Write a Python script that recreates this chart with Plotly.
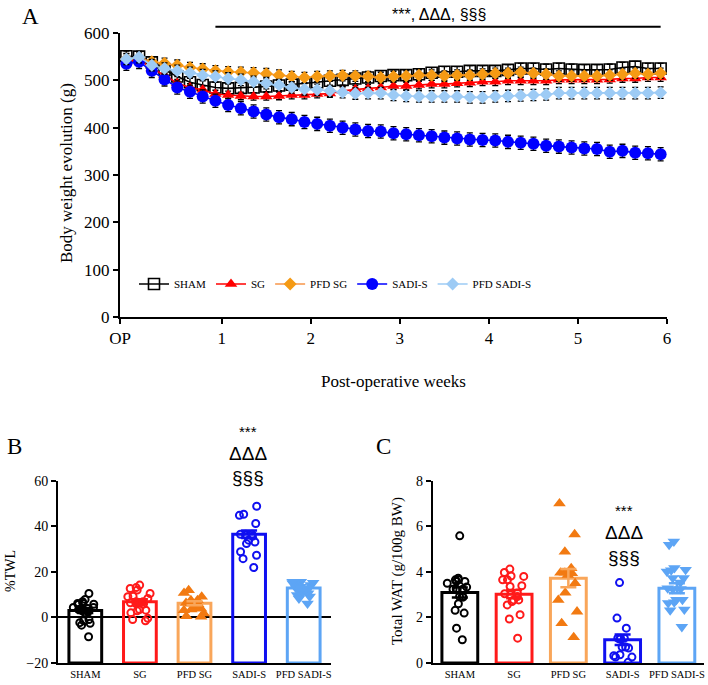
import plotly.graph_objects as go

W, H = 708, 685

# ---------------- Panel A data (daily body weight, g) ----------------
days = list(range(43))
week_tick_days = [-0.5, 7.5, 14.5, 21.5, 28.5, 35.5, 42.5]
week_tick_text = ["OP", "1", "2", "3", "4", "5", "6"]

sham_bw = [551, 550, 538, 522, 508, 496, 490, 485, 483, 484, 485, 487, 489, 491, 493, 496,
           499, 501, 504, 506, 509, 511, 511, 513, 516, 518, 518, 520, 520, 520, 522, 525,
           525, 523, 525, 523, 522, 522, 523, 527, 529, 525, 525]
sg_bw = [539, 544, 525, 511, 494, 485, 480, 471, 469, 467, 466, 466, 467, 469, 469, 471,
         472, 478, 481, 483, 485, 488, 488, 490, 492, 492, 494, 495, 497, 497, 499, 499,
         499, 499, 501, 501, 501, 501, 502, 504, 504, 506, 506]
pfdsg_bw = [545, 547, 539, 536, 532, 527, 524, 520, 518, 517, 516, 514, 511, 508, 506, 508,
            509, 510, 509, 508, 506, 508, 509, 511, 511, 509, 511, 511, 513, 515, 515, 517,
            515, 513, 509, 509, 509, 509, 511, 513, 515, 513, 515]
sadis_bw = [535, 539, 520, 502, 485, 476, 466, 457, 448, 441, 434, 428, 422, 418, 412, 408,
            404, 400, 396, 393, 392, 388, 386, 384, 382, 379, 377, 375, 374, 373, 370, 368,
            366, 362, 360, 358, 356, 355, 349, 351, 347, 346, 344]
pfdsadis_bw = [545, 549, 532, 525, 520, 516, 511, 508, 504, 501, 497, 494, 490, 485, 481, 480,
               478, 475, 472, 473, 473, 469, 467, 466, 466, 466, 466, 464, 464, 466, 467, 468,
               469, 470, 473, 473, 473, 473, 473, 473, 473, 473, 474]
sem_bw = {"SHAM": 11, "SG": 8, "PFD SG": 11, "SADI-S": 14, "PFD SADI-S": 12}

# ---------------- Panel B / C data ----------------
groups = ["SHAM", "SG", "PFD SG", "SADI-S", "PFD SADI-S"]

twl_sham = [7.9, 10.5, 6.1, 5.8, 5.8, 6.1, 6.9, 4.4, 3.9, 3.5, 3.9, 4.4, 2.5, 2.0, 2.9,
            -1.5, -2.6, -3.4, -2.3, -0.9, -8.5]
twl_sg = [14.2, 12.7, 12.0, 13.1, 10.5, 9.1, 8.3, 9.3, 6.1, 6.9, 6.4, 6.9, 5.8, 3.2, 2.9,
          3.5, 2.0, -0.4, -1.5, -0.9]
twl_pfdsg = [12.0, 10.8, 7.6, 9.1, 7.6, 6.1, 5.8, 6.4, 3.5, 3.9, 4.4, 3.2, 1.8, 0.6, 0.3]
twl_sadis = [48.8, 44.8, 45.3, 41.2, 36.5, 36.5, 35.6, 36.1, 36.5, 33.9, 33.1, 32.4, 27.3,
             28.8, 25.8, 21.9]
twl_pfdsadis = [12.7, 11.7, 12.3, 11.2, 12.7, 15.6, 13.4, 10.5, 9.8, 10.5, 15.6, 14.9, 14.2,
                14.9, 15.2, 6.1, 9.1, 8.3]
twl_mean = [3.0, 6.9, 6.2, 36.5, 12.9]
twl_sem = [1.1, 1.1, 0.9, 1.7, 0.6]
twl_base = -20

wat_sham = [5.58, 3.72, 3.65, 3.58, 3.5, 3.58, 3.65, 3.33, 3.21, 3.24, 3.24, 3.24, 2.92,
            2.89, 2.92, 2.6, 2.31, 2.19, 1.53, 1.02]
wat_sg = [4.12, 3.97, 3.65, 3.82, 3.8, 3.65, 3.36, 3.39, 3.04, 2.99, 3.07, 2.92, 2.77, 2.7,
          2.77, 2.55, 2.12, 1.93, 1.09]
wat_pfdsg = [7.0, 5.65, 4.89, 4.16, 3.97, 3.87, 3.94, 3.97, 3.5, 3.09, 2.77, 2.26, 1.75, 1.14]
wat_sadis = [3.53, 1.97, 1.53, 1.09, 1.05, 1.09, 1.09, 0.7, 0.66, 0.7, 0.36, 0.26, 0.26,
             0.32, 0.03]
wat_pfdsadis = [5.18, 5.33, 4.16, 4.01, 4.06, 4.09, 3.72, 3.72, 3.53, 3.24, 3.28, 3.24, 2.77,
                2.63, 2.66, 2.77, 2.34, 2.31, 1.58]
wat_mean = [3.09, 3.02, 3.72, 1.02, 3.28]
wat_sem = [0.22, 0.18, 0.4, 0.23, 0.22]

# ---------------- styles ----------------
SERIF = "Liberation Serif, Times New Roman, serif"
SANS = "Liberation Sans, Arial, sans-serif"
bar_colors = ["#000000", "#FF1A1A", "#F9A65A", "#1010F0", "#5DA5F5"]
pt_colors = ["#000000", "#FF1A1A", "#F27A12", "#1010F0", "#5DA5F5"]
pt_symbols = ["circle-open", "circle-open", "triangle-up", "circle-open", "triangle-down"]

fig = go.Figure()

# ---------------- Panel A traces ----------------
series = [
    ("SHAM", sham_bw, "#000000", "#000000", "square-open", 11),
    ("SG", sg_bw, "#FF0000", "#FF0000", "triangle-up", 11),
    ("PFD SG", pfdsg_bw, "#F7964A", "#F59A14", "diamond", 10),
    ("SADI-S", sadis_bw, "#0000FF", "#0000FF", "circle", 12),
    ("PFD SADI-S", pfdsadis_bw, "#9DCBF5", "#9DCBF5", "diamond", 10),
]
for name, vals, lc, mc, sym, sz in series:
    fig.add_trace(go.Scatter(
        x=days, y=vals, name=name, mode="lines+markers",
        line=dict(color=lc, width=1.6),
        marker=dict(symbol=sym, color=mc, size=sz,
                    line=dict(width=1.6 if "open" in sym else 0, color=mc)),
        error_y=dict(type="constant", value=sem_bw[name], color="black",
                     thickness=1.3, width=3),
        xaxis="x", yaxis="y", showlegend=True,
    ))

# ---------------- Panel B and C traces ----------------
def add_panel(xa, ya, data_lists, means, sems, base, bw):
    fig.add_trace(go.Bar(
        x=groups, y=[m - base for m in means], base=base,
        marker=dict(color="rgba(0,0,0,0)", line=dict(color=bar_colors, width=3)),
        width=bw, xaxis=xa, yaxis=ya, showlegend=False,
    ))
    for i, g in enumerate(groups):
        fig.add_trace(go.Box(
            x=[g] * len(data_lists[i]), y=data_lists[i],
            boxpoints="all", jitter=0.95, pointpos=0, width=0.5,
            fillcolor="rgba(0,0,0,0)", line=dict(color="rgba(0,0,0,0)", width=0),
            marker=dict(symbol=pt_symbols[i], color=pt_colors[i],
                        size=7 if "open" in pt_symbols[i] else 7.5,
                        line=dict(width=2, color=pt_colors[i])),
            xaxis=xa, yaxis=ya, showlegend=False,
        ))
        fig.add_trace(go.Scatter(
            x=[g], y=[means[i]], mode="markers",
            marker=dict(color="rgba(0,0,0,0)", size=1),
            error_y=dict(type="data", array=[sems[i]], color=bar_colors[i], thickness=2.5, width=8),
            xaxis=xa, yaxis=ya, showlegend=False,
        ))

add_panel("x2", "y2", [twl_sham, twl_sg, twl_pfdsg, twl_sadis, twl_pfdsadis],
          twl_mean, twl_sem, twl_base, 0.6)
add_panel("x3", "y3", [wat_sham, wat_sg, wat_pfdsg, wat_sadis, wat_pfdsadis],
          wat_mean, wat_sem, 0, 0.66)

def px(x):
    return x / W

def py(y):
    return 1 - y / H

axis_common = dict(showline=True, linecolor="black", linewidth=2, ticks="outside",
                   tickcolor="black", ticklen=5, tickwidth=1.5, showgrid=False,
                   zeroline=False, automargin=False)

fig.update_layout(
    width=W, height=H, margin=dict(l=0, r=0, t=0, b=0, pad=0, autoexpand=False),
    paper_bgcolor="white", plot_bgcolor="white",
    boxmode="overlay", barmode="overlay",
    font=dict(family=SERIF, color="black"),
    xaxis=dict(domain=[px(120), px(667)], range=[-0.5, 42.5], anchor="y",
               tickvals=week_tick_days, ticktext=week_tick_text,
               tickfont=dict(size=17, family=SERIF), **axis_common),
    yaxis=dict(domain=[py(317), py(33)], range=[0, 600], anchor="x",
               tickvals=[0, 100, 200, 300, 400, 500, 600],
               tickfont=dict(size=17, family=SERIF), **axis_common),
    xaxis2=dict(domain=[px(58), px(331)], range=[-0.5, 4.5], anchor="y2", type="category",
                tickfont=dict(size=10.5, family=SERIF),
                **{**axis_common, "ticks": ""}),
    yaxis2=dict(domain=[py(663), py(480.7)], range=[-20, 60], anchor="x2",
                tickvals=[-20, 0, 20, 40, 60],
                tickfont=dict(size=14, family=SERIF),
                **{**axis_common, "zeroline": True}, zerolinecolor="black", zerolinewidth=1.5),
    xaxis3=dict(domain=[px(432.7), px(704)], range=[-0.5, 4.5], anchor="y3", type="category",
                tickfont=dict(size=10.5, family=SERIF),
                **{**axis_common, "ticks": ""}),
    yaxis3=dict(domain=[py(663), py(480.7)], range=[0, 8], anchor="x3",
                tickvals=[0, 2, 4, 6, 8],
                tickfont=dict(size=14, family=SERIF), **axis_common),
    legend=dict(orientation="h", x=px(134), y=py(284), xanchor="left", yanchor="middle",
                font=dict(family=SERIF, size=11), itemwidth=30, bgcolor="rgba(0,0,0,0)",
                tracegroupgap=0),
)

# significance bar in panel A
fig.add_shape(type="line", xref="x", yref="paper", x0=7, x1=42, y0=py(26.7), y1=py(26.7),
              line=dict(color="black", width=2))

ann = [
    dict(text="A", x=px(30), y=py(16), font=dict(size=23, family=SERIF)),
    dict(text="B", x=px(14), y=py(446), font=dict(size=23, family=SERIF)),
    dict(text="C", x=px(383), y=py(446), font=dict(size=23, family=SERIF)),
    dict(text="***, ΔΔΔ, §§§", x=px(439), y=py(15), font=dict(size=16, family=SANS)),
    dict(text="Post-operative weeks", x=px(393), y=py(381), font=dict(size=17, family=SERIF)),
    dict(text="Body weight evolution (g)", x=px(67), y=py(173), textangle=-90,
         font=dict(size=17, family=SERIF)),
    dict(text="%TWL", x=px(10), y=py(571), textangle=-90, font=dict(size=14, family=SERIF)),
    dict(text="Total WAT (g/100g BW)", x=px(397), y=py(571), textangle=-90,
         font=dict(size=15, family=SERIF)),
    dict(text="***", x=px(248), y=py(431), font=dict(size=15, family=SANS)),
    dict(text="ΔΔΔ", x=px(248), y=py(453), font=dict(size=19, family=SANS)),
    dict(text="§§§", x=px(248), y=py(478), font=dict(size=19, family=SANS)),
    dict(text="***", x=px(624), y=py(510), font=dict(size=15, family=SANS)),
    dict(text="ΔΔΔ", x=px(624), y=py(532), font=dict(size=19, family=SANS)),
    dict(text="§§§", x=px(624), y=py(557), font=dict(size=19, family=SANS)),
]
for a in ann:
    fig.add_annotation(xref="paper", yref="paper", showarrow=False,
                       xanchor="center", yanchor="middle", **a)

# place the figure at the page's top-left corner (no default body margin), no modebar
fig.write_html("out.html",
               config={"displayModeBar": False},
               post_script="document.body.style.margin='0px';document.body.style.overflow='hidden';")
